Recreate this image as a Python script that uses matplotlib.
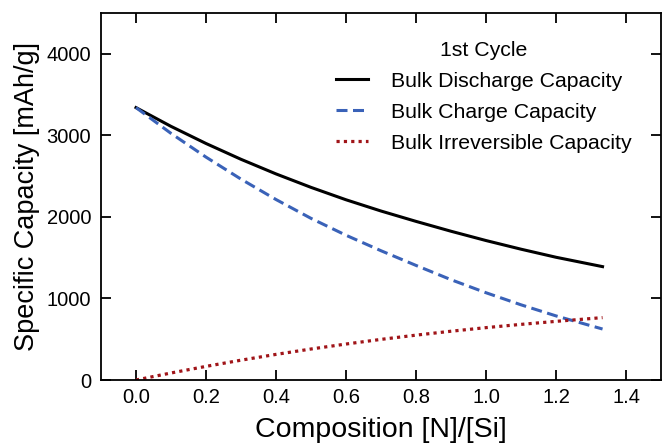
import matplotlib
matplotlib.use("Agg")
import matplotlib.pyplot as plt

plt.rcParams['font.family'] = ['Liberation Sans', 'DejaVu Sans']

composition = [0.0, 0.1, 0.2, 0.3, 0.4, 0.5, 0.6, 0.7, 0.8, 0.9, 1.0, 1.1, 1.2, 1.333]
discharge = [3340, 3110, 2900, 2706, 2527, 2362, 2210, 2072, 1945, 1824, 1710, 1604, 1505, 1390]
charge = [3340, 3024, 2733, 2463, 2213, 1982, 1775, 1585, 1405, 1230, 1070, 922, 786, 625]
irreversible = [0, 86, 167, 243, 314, 380, 441, 498, 550, 598, 642, 682, 719, 765]

labels = ["Bulk Discharge Capacity", "Bulk Charge Capacity", "Bulk Irreversible Capacity"]
legend_title = "1st Cycle"
xticks = [0.0, 0.2, 0.4, 0.6, 0.8, 1.0, 1.2, 1.4]
yticks = [0, 1000, 2000, 3000, 4000]

fig = plt.figure(figsize=(6.62, 4.43), dpi=100)
ax = fig.add_axes([101/662, 1 - 380/443, 560/662, (380 - 13)/443])

ax.plot(composition, discharge, color='black', lw=2.2, ls='-', label=labels[0])
ax.plot(composition, charge, color='#3a62b8', lw=2.2, ls=(0, (3.6, 1.8)), label=labels[1])
ax.plot(composition, irreversible, color='#a01418', lw=2.3, ls=(0, (1, 1.3)), label=labels[2])

ax.set_xlim(-0.1, 1.5)
ax.set_ylim(0, 4500)
ax.set_xticks(xticks)
ax.set_xticklabels([f"{t:.1f}" for t in xticks])
ax.set_yticks(yticks)
ax.tick_params(direction='in', top=True, right=True, length=7, width=1.3,
               labelsize=14.5)
ax.tick_params(axis='x', pad=6)
ax.tick_params(axis='y', pad=7)
for s in ax.spines.values():
    s.set_linewidth(1.3)
ax.set_xlabel("Composition [N]/[Si]", fontsize=20.5, labelpad=7)
ax.set_ylabel("Specific Capacity [mAh/g]", fontsize=19.5, labelpad=5)

leg = ax.legend(title=legend_title, loc='upper right', frameon=False, fontsize=15.3,
                title_fontsize=15.3, handlelength=1.5, handletextpad=1.1,
                bbox_to_anchor=((632 - 101) / 560, (380 - 41) / 367),
                borderaxespad=0, borderpad=0, labelspacing=0.56)

fig.savefig("out.png", dpi=100)
